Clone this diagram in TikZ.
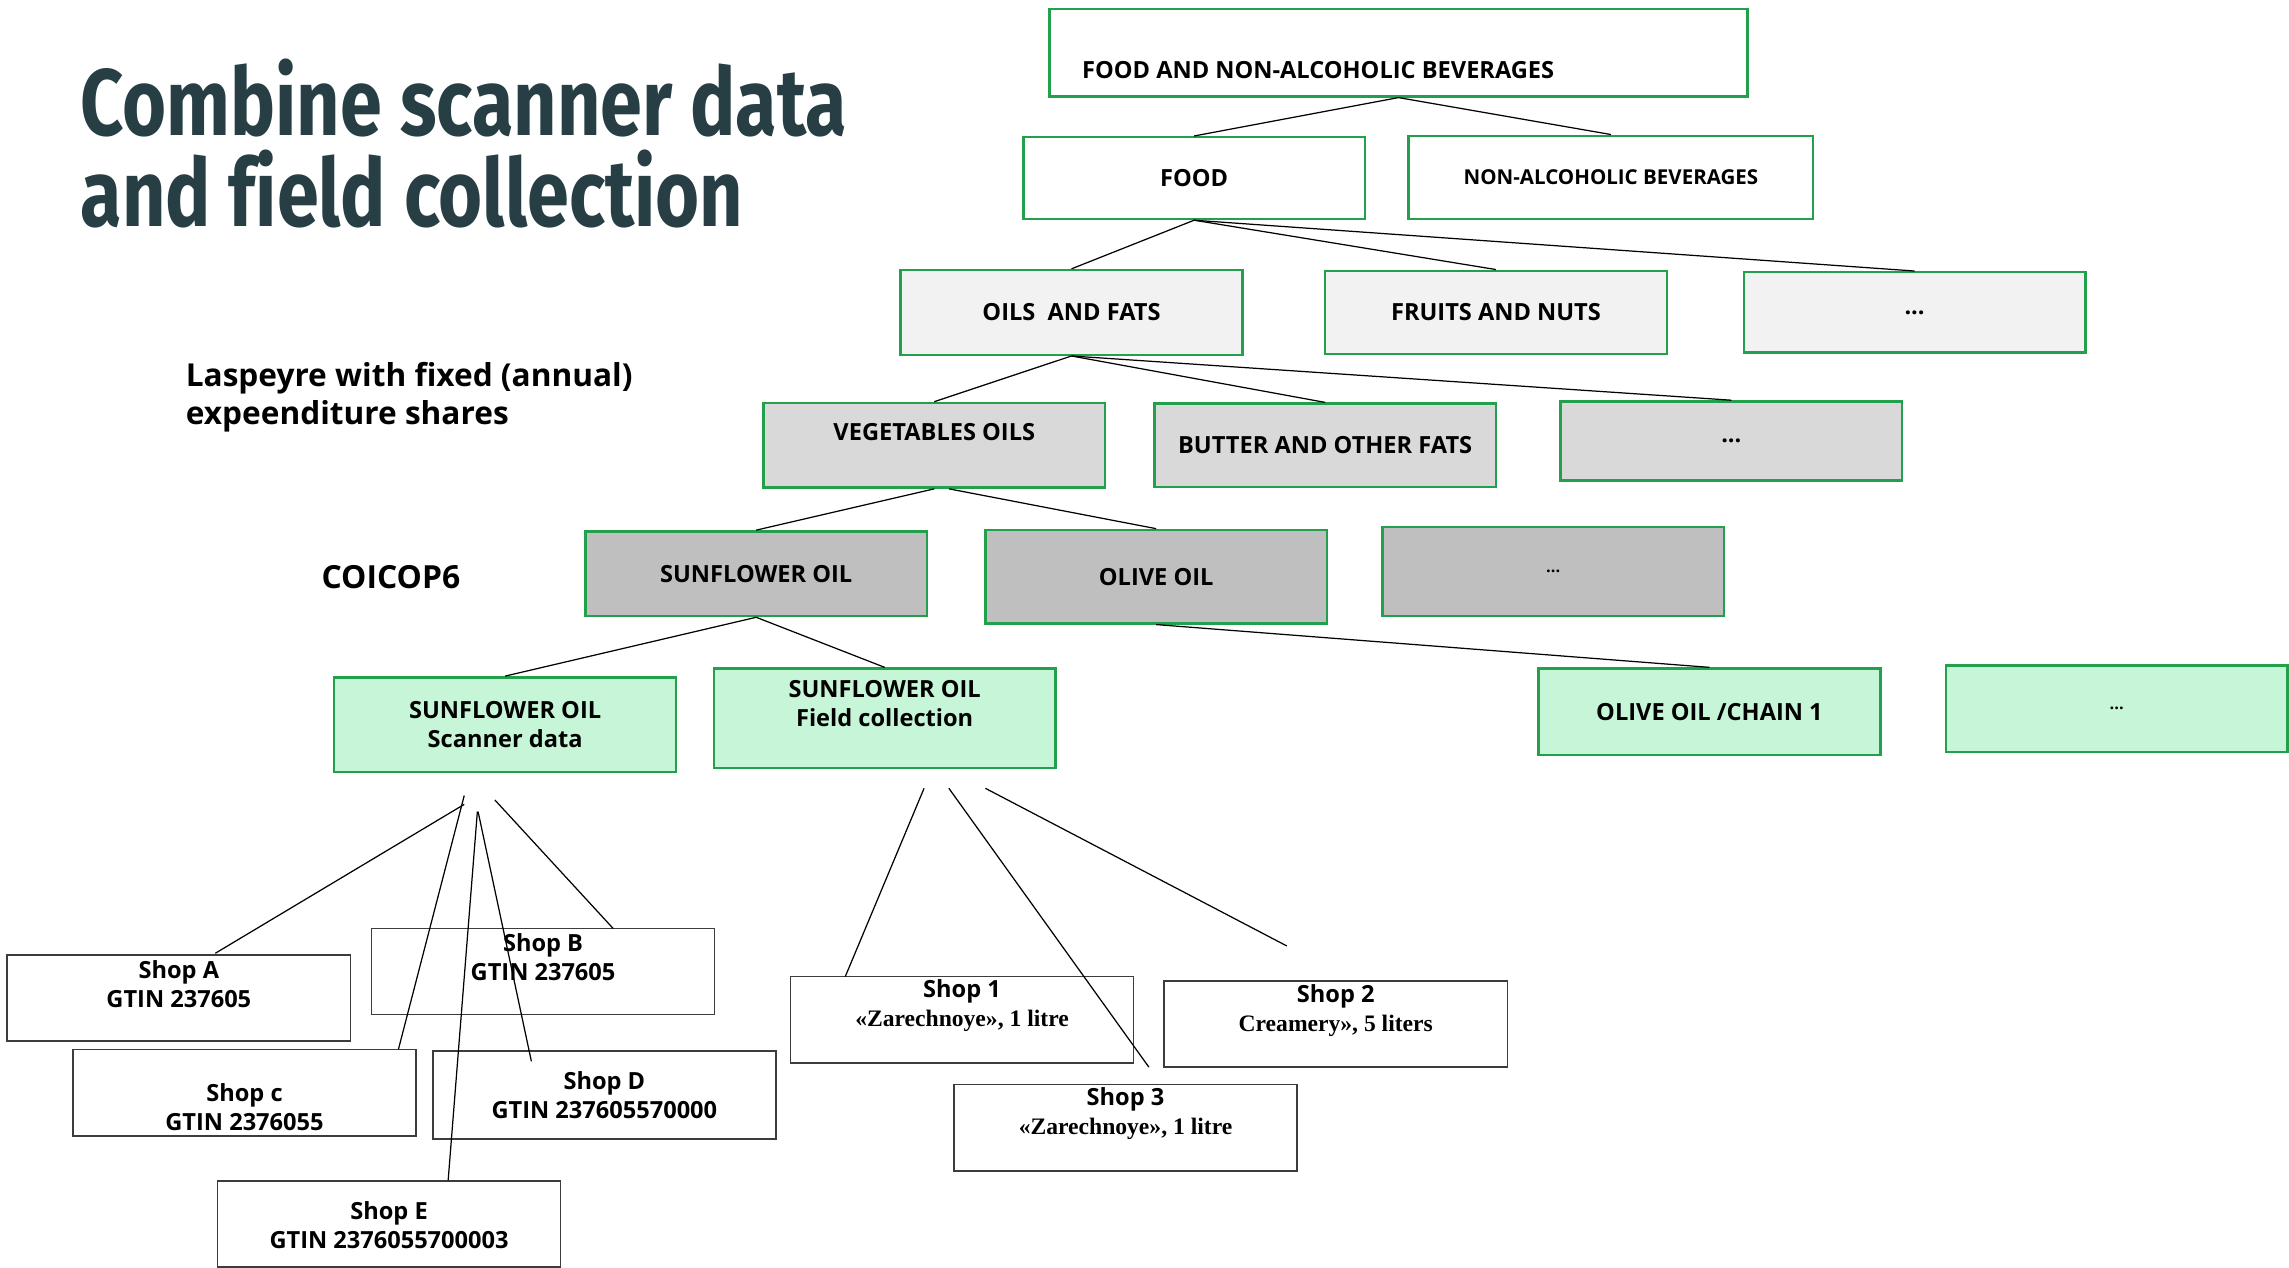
\documentclass[tikz,border=0pt]{standalone}
\usepackage{fontspec}
\setmainfont{Open Sans}
\newfontfamily\titlefont[FakeStretch=0.8, Ligatures=NoCommon]{Fira Sans}
\newfontfamily\shopserif{Liberation Serif}
\usetikzlibrary{positioning}
\definecolor{boxgreen}{RGB}{34,160,75}
\definecolor{titleslate}{RGB}{38,62,68}
\definecolor{greyone}{RGB}{242,242,242}
\definecolor{greytwo}{RGB}{217,217,217}
\definecolor{greythree}{RGB}{191,191,191}
\definecolor{mint}{RGB}{198,245,216}
\definecolor{shopedge}{RGB}{60,60,60}
\tikzstyle{cat_box} = [rectangle, draw=boxgreen, line width=1.2pt, minimum width=5.85cm, minimum height=1.45cm, inner sep=0pt, text centered, font=\fontsize{11.5}{14}\selectfont\bfseries]
\tikzstyle{level_white} = [cat_box, fill=white]
\tikzstyle{level_light} = [cat_box, fill=greyone]
\tikzstyle{level_mid} = [cat_box, fill=greytwo]
\tikzstyle{level_dark} = [cat_box, fill=greythree]
\tikzstyle{level_mint} = [cat_box, fill=mint, align=center]
\tikzstyle{box_text} = [inner sep=0pt, align=center, font=\fontsize{11.5}{14}\selectfont\bfseries]
\tikzstyle{shop_box} = [rectangle, draw=shopedge, line width=0.8pt, fill=white, minimum width=5.875cm, minimum height=1.475cm, inner sep=0pt, align=center, font=\fontsize{11.5}{14}\selectfont\bfseries]
\tikzstyle{side_text} = [inner sep=0pt, anchor=base west, font=\fontsize{15.4}{18}\selectfont\bfseries]
\tikzstyle{title_text} = [inner sep=0pt, anchor=base west, text=titleslate, font=\titlefont\bfseries\fontsize{46}{46}\selectfont]
\tikzstyle{branch} = [line width=0.6pt, black]

\begin{document}
\begin{tikzpicture}[x=0.025cm, y=-0.025cm]
		\useasboundingbox (0,0) rectangle (1568,868);

		\node (title_one) [title_text] at (55,93) {Combine scanner data};
		\node (title_two) [title_text] at (55,155) {and field collection};
		\node (laspeyre_one) [side_text] at (127,265) {Laspeyre with fixed (annual)};
		\node (laspeyre_two) [side_text] at (127,291) {expeenditure shares};
		\node (coicop) [side_text, font=\fontsize{15.5}{18}\selectfont\bfseries] at (220,403) {COICOP6};

		\node (fnab) [level_white, minimum width=11.95cm, minimum height=1.5cm] at (958,36) {};
		\node (fnab_text) [box_text, anchor=base west] at (741,54) {FOOD AND NON-ALCOHOLIC BEVERAGES};
		\node (food) [level_white, minimum height=1.4cm] at (818,122) {FOOD};
		\node (nab) [level_white, minimum width=6.925cm, minimum height=1.425cm, font=\fontsize{10}{12}\selectfont\bfseries] at (1103.5,121.5) {NON-ALCOHOLIC BEVERAGES};

		\node (oils) [level_light] at (734,214) {OILS\ \ AND FATS};
		\node (fruits) [level_light, right=1.375cm of oils, minimum height=1.425cm] {FRUITS AND NUTS};
		\node (more_food) [level_light, right=1.275cm of fruits, minimum height=1.375cm] {...};

		\node (veg) [level_mid] at (640,305) {};
		\node (veg_text) [box_text] at (640,296) {VEGETABLES OILS};
		\node (butter) [level_mid, right=0.8cm of veg, minimum height=1.425cm] {BUTTER AND OTHER FATS};
		\node (more_fats) [level_mid, minimum height=1.35cm] at (1186,302) {...};

		\node (sun) [level_dark] at (518,393) {SUNFLOWER OIL};
		\node (olive) [level_dark, minimum height=1.6cm] at (792,395) {OLIVE OIL};
		\node (more_veg) [level_dark, minimum height=1.525cm, font=\fontsize{8}{10}\selectfont\bfseries] at (1064,391.5) {...};

		\node (scan) [level_mint, minimum height=1.625cm] at (346,496.5) {SUNFLOWER OIL\\Scanner data};
		\node (field) [level_mint, minimum height=1.7cm] at (606,492) {};
		\node (field_text) [box_text] at (606,482) {SUNFLOWER OIL\\Field collection};
		\node (chain) [level_mint, minimum height=1.475cm] at (1171,487.5) {OLIVE OIL /CHAIN 1};
		\node (more_chain) [level_mint, minimum height=1.475cm, font=\fontsize{8}{10}\selectfont\bfseries] at (1450,485.5) {...};

		\node (shop_a) [shop_box] at (122.5,683.5) {};
		\node (shop_a_text) [box_text] at (122.5,674) {Shop A\\GTIN 237605};
		\node (shop_b) [shop_box] at (372,665.5) {};
		\node (shop_b_text) [box_text] at (372,655.5) {Shop B\\GTIN 237605};
		\node (shop_c) [shop_box] at (167.5,748.5) {};
		\node (shop_c_text) [box_text] at (167.5,758.5) {Shop c\\GTIN 2376055};
		\node (shop_d) [shop_box, minimum height=1.5cm] at (414,750) {Shop D\\GTIN 237605570000};
		\node (shop_e) [shop_box] at (266.5,838.5) {};
		\node (shop_e_text) [box_text] at (266.5,839) {Shop E\\GTIN 2376055700003};
		\node (shop_one) [shop_box] at (659,698.5) {};
		\node (shop_one_text) [box_text] at (659,689) {Shop 1\\{\shopserif «Zarechnoye», 1 litre}};
		\node (shop_two) [shop_box] at (915,701.5) {};
		\node (shop_two_text) [box_text] at (915,692.5) {Shop 2\\{\shopserif Creamery», 5 liters}};
		\node (shop_three) [shop_box] at (771,772.5) {};
		\node (shop_three_text) [box_text] at (771,763) {Shop 3\\{\shopserif «Zarechnoye», 1 litre}};

		\coordinate (scan_a) at (318,551);
		\coordinate (scan_b) at (339,548);
		\coordinate (scan_c) at (318,545);
		\coordinate (scan_d) at (327.5,556);
		\coordinate (scan_e) at (327,556);
		\coordinate (top_a) at (147.5,653);
		\coordinate (top_b) at (420,636);
		\coordinate (top_c) at (273,718.5);
		\coordinate (top_d) at (364,727);
		\coordinate (top_e) at (307,808.5);
		\coordinate (field_one) at (633,540);
		\coordinate (field_three) at (650,540);
		\coordinate (field_two) at (675,540);
		\coordinate (top_one) at (579,669);
		\coordinate (top_three) at (787,731);
		\coordinate (top_two) at (881.5,648);

		\draw [branch] (fnab.south) -- (food.north);
		\draw [branch] (fnab.south) -- (nab.north);
		\draw [branch] (food.south) -- (oils.north);
		\draw [branch] (food.south) -- (fruits.north);
		\draw [branch] (food.south) -- (more_food.north);
		\draw [branch] (oils.south) -- (veg.north);
		\draw [branch] (oils.south) -- (butter.north);
		\draw [branch] (oils.south) -- (more_fats.north);
		\draw [branch] (veg.south) -- (sun.north);
		\draw [branch] ([xshift=0.25cm]veg.south) -- (olive.north);
		\draw [branch] (sun.south) -- (scan.north);
		\draw [branch] (sun.south) -- (field.north);
		\draw [branch] (olive.south) -- (chain.north);

		\draw [branch] (scan_a) -- (top_a);
		\draw [branch] (scan_b) -- (top_b);
		\draw [branch] (scan_c) -- (top_c);
		\draw [branch] (scan_d) -- (top_d);
		\draw [branch] (scan_e) -- (top_e);
		\draw [branch] (field_one) -- (top_one);
		\draw [branch] (field_three) -- (top_three);
		\draw [branch] (field_two) -- (top_two);
\end{tikzpicture}
\end{document}
